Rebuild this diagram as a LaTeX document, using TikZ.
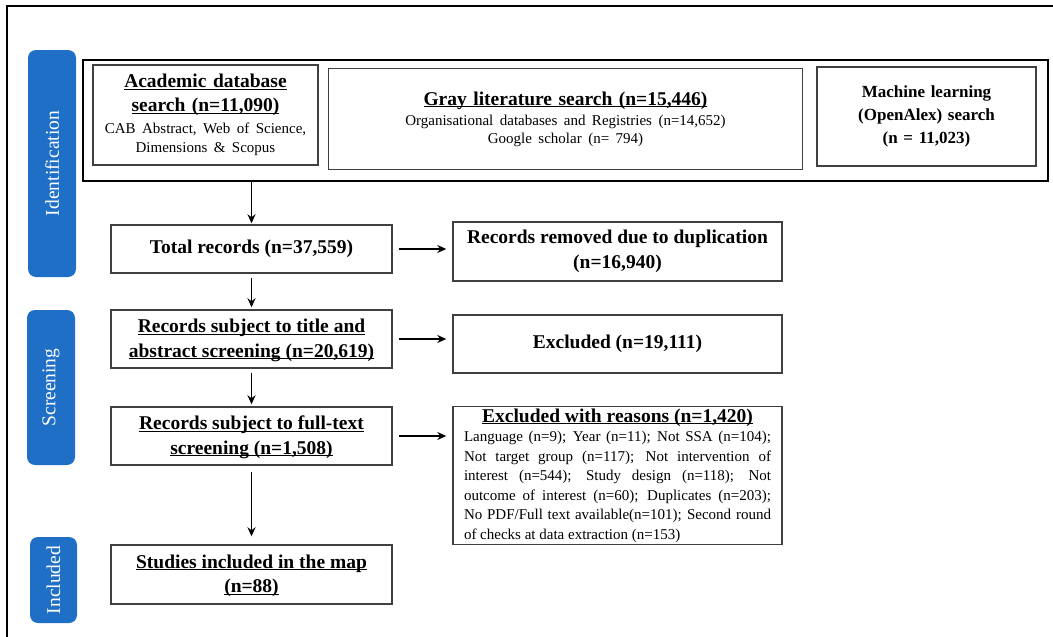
\documentclass[tikz,border=0pt]{standalone}
\usepackage{fontspec}
\setmainfont{Liberation Serif}
\usetikzlibrary{positioning, arrows.meta}
\usepackage{xcolor}
\definecolor{stage}{HTML}{1F6FC6}
\definecolor{edge}{HTML}{404040}
\newcommand{\ulined}[1]{\underline{\raisebox{0pt}[\height][0pt]{#1}}}

\begin{document}
\begin{tikzpicture}[
    x=1pt, y=-1pt,
    block/.style={draw=edge, line width=1.4pt, align=center, inner sep=2pt, font=\bfseries\fontsize{19.5}{24.5}\selectfont},
    stagebox/.style={fill=stage, rounded corners=8pt, rotate=90, inner sep=0pt, text=white, font=\fontsize{19.5}{22}\selectfont},
    flow/.style={-{Stealth[length=9pt, width=8pt]}, line width=1.6pt},
]
\useasboundingbox (0,0) rectangle (1053,637);
\draw[line width=1.5pt] (7,637) -- (7,6) -- (1053,6);

% Stages
\node[stagebox, minimum width=227, minimum height=48] (sid) at (52,163.5) {Identification};
\node[stagebox, minimum width=155, minimum height=48] (sscr) at (51,387.5) {Screening};
\node[stagebox, minimum width=86, minimum height=47] (sinc) at (53.5,580) {Included};

% Identification: searches
\node[draw, line width=2.2pt, minimum width=965, minimum height=121, inner sep=0pt] (idbox) at (565.5,120.5) {};
\node[block, text width=221, minimum height=100] (acad) at (205.5,115)
    {\ulined{Academic database}\\ \ulined{search (n=11,090)}\par
     \vspace{3pt}{\mdseries\fontsize{15}{19}\selectfont CAB Abstract, Web of Science,\\ Dimensions \& Scopus\par}};
\node[block, text width=470, minimum height=101] (gray) at (565.5,119)
    {\ulined{Gray literature search (n=15,446)}\par
     \vspace{2pt}{\mdseries\fontsize{15}{18}\selectfont Organisational databases and Registries (n=14,652)\\ Google scholar (n= 794)\par}};
\node[block, text width=215, minimum height=99, font=\bfseries\fontsize{17}{23}\selectfont] (ml) at (926.5,116.5)
    {Machine learning\\ (OpenAlex) search\\ (n = 11,023)};

% Main column
\node[block, minimum width=281, minimum height=48] (tot) at (251.5,249) {Total records (n=37,559)};
\node[block, minimum width=281, minimum height=58] (tia) at (251.5,339) {\ulined{Records subject to title and}\\ \ulined{abstract screening (n=20,619)}};
\node[block, minimum width=281, minimum height=58] (ful) at (251.5,436) {\ulined{Records subject to full-text}\\ \ulined{screening (n=1,508)}};
\node[block, minimum width=281, minimum height=59] (inc) at (251.5,574.5) {\ulined{Studies included in the map}\\ \ulined{(n=88)}};

% Exclusions
\node[block, minimum width=329, minimum height=59] (rem) at (617.5,251.5) {Records removed due to duplication\\ (n=16,940)};
\node[block, minimum width=329, minimum height=58] (exc) at (617.5,344) {Excluded (n=19,111)};
\node[block, anchor=north, text width=307, inner xsep=11pt, inner ysep=2pt, align=justify] (rsn) at (617.5,406)
    {{\centering\fontsize{19.5}{19.5}\selectfont\ulined{Excluded with reasons (n=1,420)}\par}
     {\mdseries\fontsize{15}{19.5}\selectfont Language (n=9); Year (n=11); Not SSA (n=104);\linebreak
      Not target group (n=117); Not intervention of\linebreak
      interest (n=544); Study design (n=118); Not\linebreak
      outcome of interest (n=60); Duplicates (n=203);\linebreak
      No PDF/Full text available(n=101); Second round\linebreak
      of checks at data extraction (n=153)\par}};

% Arrows
\draw[flow, shorten >=1pt] (tot |- idbox.south) -- (tot.north);
\draw[flow, shorten <=4pt, shorten >=2pt] (tot) -- (tia);
\draw[flow, shorten <=4pt, shorten >=2pt] (tia) -- (ful);
\draw[flow, shorten <=6pt, shorten >=8pt] (ful) -- (inc);
\draw[flow, shorten <=6pt, shorten >=6pt] (tot.east) -- (tot.east -| rem.west);
\draw[flow, shorten <=6pt, shorten >=6pt] (tia.east) -- (tia.east -| exc.west);
\draw[flow, shorten <=6pt, shorten >=6pt] (ful.east) -- (ful.east -| rsn.west);

\end{tikzpicture}
\end{document}
